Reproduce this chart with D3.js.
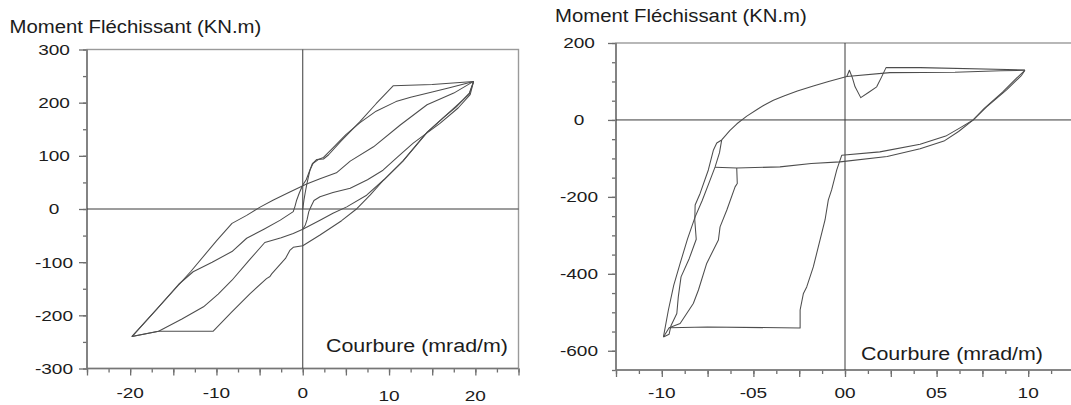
<!DOCTYPE html>
<html>
<head>
<meta charset="utf-8">
<script src="https://cdn.jsdelivr.net/npm/d3@7"></script>
<style>
  html, body { margin: 0; padding: 0; background: #fff; }
  svg { display: block; }
  text { font-family: "Liberation Sans", Arial, sans-serif; fill: #1c1c1c; }
</style>
</head>
<body>
<svg id="chart" width="1071" height="405"></svg>
<script>
// ---- Left panel: moment / curvature cycles (KN.m vs mrad/m) ----
const leftYTicks = [300, 200, 100, 0, -100, -200, -300];
const leftXTicks = [-20, -10, 0, 10, 20];

const leftFirstLoading = [[0,0],[0.15,18],[0.3,32],[0.45,45],[0.65,60],[0.85,74],[1.1,85],[1.6,93],[2.4,94],[3.0,102],[4.4,127],[6.6,164],[8.5,198],[10.5,232],[15,234],[19.8,240]];
const leftUnloadOuter = [[19.8,240],[17.5,218],[14.4,196],[11.3,158],[8.2,117],[5.5,90],[3.9,68],[2.0,57],[0.45,47],[-1.5,32],[-3.4,17],[-5,3],[-6.5,-12],[-8.2,-27],[-10,-60],[-13,-118],[-16,-172],[-19.8,-240]];
const leftReloadOuter = [[-19.8,-240],[-16.7,-230],[-10.4,-230],[-8.3,-195],[-6.1,-159],[-4.2,-131],[-3.8,-127],[-3.6,-122],[-2,-93],[-1.5,-78],[-1.1,-72],[0,-69],[2,-49],[4.5,-22],[6.3,1],[7.8,26],[9.4,55],[11.6,90],[14.4,144],[16.3,172],[17.8,192],[19.3,218],[19.8,240]];
const leftUnloadInner = [[19.8,240],[17,228],[15,220],[12.5,210],[10.8,202],[8.5,184],[6.6,162],[5,140],[3.5,115],[2.4,97],[1.8,93],[1.2,86],[0.8,72],[0.4,55],[0,45],[-0.4,30],[-0.7,17],[-0.9,5],[-1.1,-5],[-2.6,-21],[-4.5,-38],[-6.5,-55],[-8.2,-80],[-10.5,-100],[-12.7,-118],[-14.4,-142],[-17,-190],[-19.8,-240]];
const leftReloadInner = [[-19.8,-240],[-16.7,-230],[-14,-207],[-11.5,-184],[-9.8,-160],[-8.2,-134],[-6.3,-98],[-4.4,-63],[-2.5,-54],[-1.1,-46],[0,-38],[2,-21],[3.5,-8],[5.1,4],[7.4,26],[9.4,55],[11.6,90],[14.4,144],[16.3,172],[19.3,216],[19.8,240]];
const leftReloadPinched = [[0,-38],[0.3,-30],[0.5,-20],[0.7,-5],[1.0,6],[1.3,16],[2,23],[3.5,31],[5.5,39],[7.5,55],[9.3,73],[11,98],[12.8,124],[15.9,161],[18,190],[19.4,215],[19.8,240]];

// ---- Right panel ----
const rightYTicks = [200, 0, -200, -400, -600];
const rightXTicks = [-10, -5, 0, 5, 10];

const rightUnloadUpper = [[9.82,129],[8.5,128],[6,124],[2.45,123],[0.1,113],[-0.9,100],[-1.73,88],[-2.6,75],[-3.3,63],[-3.91,51],[-4.4,39],[-4.8,27],[-5.36,10],[-5.9,-10],[-6.29,-28],[-6.55,-42],[-6.73,-52]];
const rightSpike = [[9.82,130],[4.1,136],[2.24,136],[2.0,112],[1.73,86],[1.3,72],[0.86,58],[0.55,86],[0.4,110],[0.24,129],[0.1,113]];
const rightDropA = [[-6.73,-52],[-6.85,-85],[-7.09,-122],[-7.37,-157],[-7.8,-210],[-8.18,-252],[-8.6,-310],[-9.0,-373],[-9.35,-430],[-9.64,-494],[-9.91,-564]];
const rightDropB = [[-6.73,-52],[-7.0,-60],[-7.18,-78],[-7.46,-130],[-7.91,-191],[-8.18,-221],[-8.2,-260],[-8.12,-310],[-8.5,-360],[-8.95,-408],[-9.1,-460],[-9.18,-503],[-9.5,-535],[-9.6,-557],[-9.91,-564]];
const rightReloadBottom = [[-9.91,-564],[-9.6,-540],[-7.5,-538],[-2.45,-541],[-2.45,-494],[-2.27,-451],[-2.09,-434],[-1.73,-382],[-1.09,-260],[-0.91,-208],[-0.73,-182],[-0.45,-130],[-0.18,-92],[1.9,-83],[4.1,-63],[5.5,-42],[6.3,-20],[7.0,0],[7.73,34],[8.82,78],[9.64,116],[9.82,129]];
const rightReloadMid = [[-7.09,-123],[-5.91,-125],[-3.55,-122],[-1.84,-113],[-0.27,-109],[2.3,-95],[4.1,-75],[5.4,-55],[6.2,-30],[7.0,0],[7.6,30],[8.6,72],[9.35,108],[9.82,129]];
const rightDropC = [[-5.91,-125],[-5.88,-165],[-6.0,-174],[-6.45,-234],[-6.82,-278],[-6.91,-312],[-7.55,-373],[-8.0,-442],[-8.28,-477],[-8.64,-503],[-9.0,-529],[-9.6,-540]];

const yTitle = "Moment Fléchissant (KN.m)";
const xTitle = "Courbure (mrad/m)";

const svg = d3.select("#chart");

// text drawn with a horizontal stretch, as in the original figure
function stretchedText(g, x, y, str, size, sx, anchor) {
  const t = g.append("g").attr("transform", `translate(${x},${y}) scale(${sx},1)`);
  return t.append("text")
    .attr("font-size", size)
    .attr("text-anchor", anchor || "start")
    .text(str);
}

function panel(cfg) {
  const g = svg.append("g");
  const x = d3.scaleLinear().domain(cfg.xDomain).range(cfg.xRange);
  const y = d3.scaleLinear().domain(cfg.yDomain).range(cfg.yRange);
  const [x0, x1] = cfg.xRange, [y0, y1] = cfg.yRange;

  // minor and major tick marks from d3 axes
  const yMinor = d3.range(cfg.yDomain[0], cfg.yDomain[1] + 1e-9, cfg.yMinorStep);
  const yMajor = yMinor.filter(v => Math.abs(v % cfg.yMajorStep) < 1e-9);
  const xMinor = d3.range(cfg.xDomain[0], cfg.xDomain[1] + 1e-9, cfg.xMinorStep);
  const xMajor = xMinor.filter(v => Math.abs(Math.round(v / cfg.xMajorStep) * cfg.xMajorStep - v) < 1e-9);

  const axes = [
    g.append("g").attr("transform", `translate(${x0},0)`).call(d3.axisLeft(y).tickValues(yMinor).tickSize(4).tickFormat("")),
    g.append("g").attr("transform", `translate(${x0},0)`).call(d3.axisLeft(y).tickValues(yMajor).tickSize(8).tickFormat("")),
    g.append("g").attr("transform", `translate(0,${y0})`).call(d3.axisBottom(x).tickValues(xMinor).tickSize(4).tickFormat("")),
    g.append("g").attr("transform", `translate(0,${y0})`).call(d3.axisBottom(x).tickValues(xMajor).tickSize(7).tickFormat(""))
  ];
  axes.forEach(a => {
    a.select(".domain").remove();
    a.selectAll("line").attr("stroke", "#6e6e6e").attr("stroke-width", 1.3);
  });

  // frame
  g.append("rect")
    .attr("x", x0).attr("y", y1).attr("width", x1 - x0).attr("height", y0 - y1)
    .attr("fill", "none").attr("stroke", "#9a9a9a").attr("stroke-width", 1.4);
  g.append("line").attr("x1", x0).attr("x2", x0).attr("y1", y1).attr("y2", y0 + 0.5)
    .attr("stroke", "#767676").attr("stroke-width", 1.6);
  g.append("line").attr("x1", x0).attr("x2", x1).attr("y1", y0).attr("y2", y0)
    .attr("stroke", "#767676").attr("stroke-width", 1.6);

  // zero cross-hair
  g.append("line").attr("x1", x(0)).attr("x2", x(0)).attr("y1", y1).attr("y2", y0)
    .attr("stroke", "#3a3a3a").attr("stroke-width", 1);
  g.append("line").attr("x1", x0).attr("x2", x1).attr("y1", y(0)).attr("y2", y(0))
    .attr("stroke", "#3a3a3a").attr("stroke-width", 1);

  // cycle branches
  const line = d3.line().x(d => x(d[0])).y(d => y(d[1]));
  g.append("g").selectAll("path").data(cfg.branches).join("path")
    .attr("d", line)
    .attr("fill", "none")
    .attr("stroke", "#4d4d4d")
    .attr("stroke-width", 1.05)
    .attr("stroke-linejoin", "round");

  // tick labels
  cfg.yLabels.forEach(v => {
    stretchedText(g, cfg.yLabelX, y(v), String(v), 15, 1.27, "middle").attr("dy", "0.36em");
  });
  cfg.xLabels.forEach(v => {
    stretchedText(g, x(v), 397.5 + cfg.xLabelDrop(v), cfg.xFormat(v), 15, 1.27, "middle");
  });

  // titles
  stretchedText(svg, cfg.yTitlePos[0], cfg.yTitlePos[1], yTitle, 18, 1.13);
  stretchedText(svg, cfg.xTitlePos[0], cfg.xTitlePos[1], xTitle, 18, 1.19);
}

panel({
  xDomain: [-25, 25], xRange: [87, 518.5],
  yDomain: [-300, 300], yRange: [368.5, 49.5],
  yMinorStep: 50, yMajorStep: 100,
  xMinorStep: 2.5, xMajorStep: 5,
  yLabels: leftYTicks, yLabelX: 54,
  xLabels: leftXTicks, xFormat: v => String(v), xLabelDrop: v => v > 0 ? 3.5 : 0,
  branches: [leftFirstLoading, leftUnloadOuter, leftReloadOuter, leftUnloadInner, leftReloadInner, leftReloadPinched],
  yTitlePos: [9.5, 32.5], xTitlePos: [326, 351.5]
});

panel({
  xDomain: [-12.5, 12.5], xRange: [616, 1074],
  yDomain: [-650, 200], yRange: [370, 43],
  yMinorStep: 50, yMajorStep: 200,
  xMinorStep: 1.25, xMajorStep: 2.5,
  yLabels: rightYTicks, yLabelX: 579,
  xLabels: rightXTicks,
  xFormat: v => (v < 0 ? "-" : "") + String(Math.abs(v)).padStart(2, "0"),
  xLabelDrop: v => 0,
  branches: [rightUnloadUpper, rightSpike, rightDropA, rightDropB, rightReloadBottom, rightReloadMid, rightDropC],
  yTitlePos: [555, 21.5], xTitlePos: [861, 360]
});
</script>
</body>
</html>
